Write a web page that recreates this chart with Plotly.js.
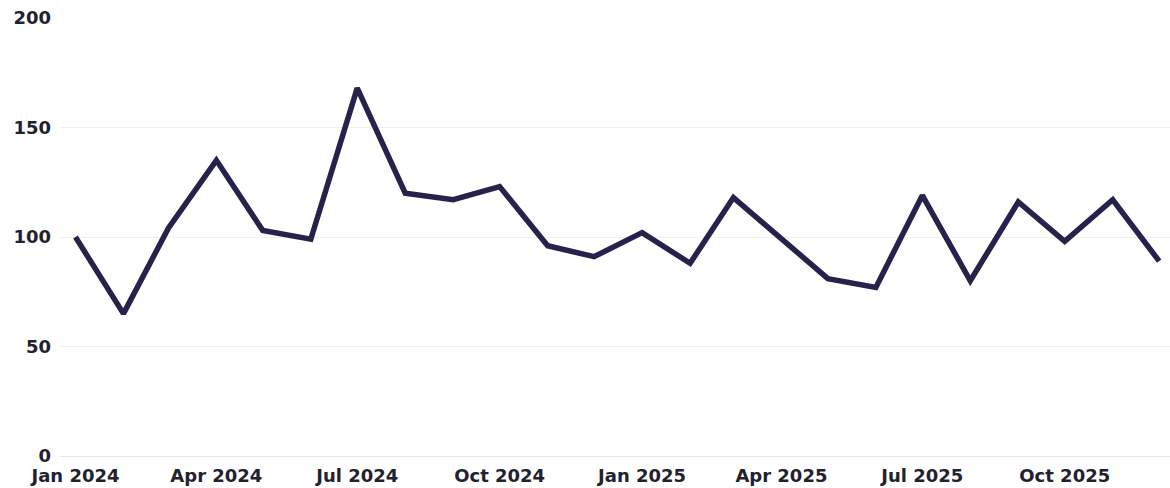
<!DOCTYPE html>
<html>
<head>
<meta charset="utf-8">
<script src="https://cdn.plot.ly/plotly-3.0.1.min.js"></script>
<style>
  html, body { margin: 0; padding: 0; background: #ffffff; }
  #chart { width: 1170px; height: 488px; }
</style>
</head>
<body>
<div id="chart"></div>
<script>
const months = [
  '2024-01-01','2024-02-01','2024-03-01','2024-04-01','2024-05-01','2024-06-01',
  '2024-07-01','2024-08-01','2024-09-01','2024-10-01','2024-11-01','2024-12-01',
  '2025-01-01','2025-02-01','2025-03-01','2025-04-01','2025-05-01','2025-06-01',
  '2025-07-01','2025-08-01','2025-09-01','2025-10-01','2025-11-01','2025-12-01'
];
const values = [
  100, 65, 104, 135, 103, 99,
  168, 120, 117, 123, 96, 91,
  102, 88, 118, 99, 81, 77,
  119, 80, 116, 98, 117, 89
];
const yTicks = [0, 50, 100, 150, 200];

const trace = {
  x: months,
  y: values,
  type: 'scatter',
  mode: 'lines',
  line: { color: '#25224b', width: 5.5 },
  hoverinfo: 'x+y'
};

const tickFont = { family: '"DejaVu Sans", sans-serif', size: 18, color: '#22222e', weight: 700 };

const layout = {
  width: 1170,
  height: 488,
  margin: { l: 60, r: 0, t: 18, b: 32 },
  paper_bgcolor: '#ffffff',
  plot_bgcolor: '#ffffff',
  showlegend: false,
  font: { family: '"DejaVu Sans", sans-serif', size: 18, color: '#22222e' },
  xaxis: {
    type: 'date',
    range: ['2023-12-22', '2025-12-08'],
    tickmode: 'linear',
    tick0: '2024-01-01',
    dtick: 'M3',
    tickformat: '%b %Y',
    showgrid: false,
    zeroline: false,
    showline: false,
    ticks: '',
    ticklabelstandoff: 7,
    tickfont: tickFont
  },
  yaxis: {
    range: [0, 200],
    tickmode: 'array',
    tickvals: yTicks,
    ticktext: yTicks.map(String),
    showgrid: true,
    gridcolor: '#f0f0f0',
    gridwidth: 1,
    zeroline: true,
    zerolinecolor: '#e8e8e8',
    zerolinewidth: 1,
    showline: false,
    ticks: '',
    ticklabelstandoff: 8,
    tickfont: tickFont
  }
};

Plotly.newPlot('chart', [trace], layout, { displayModeBar: false, staticPlot: true });
</script>
</body>
</html>
